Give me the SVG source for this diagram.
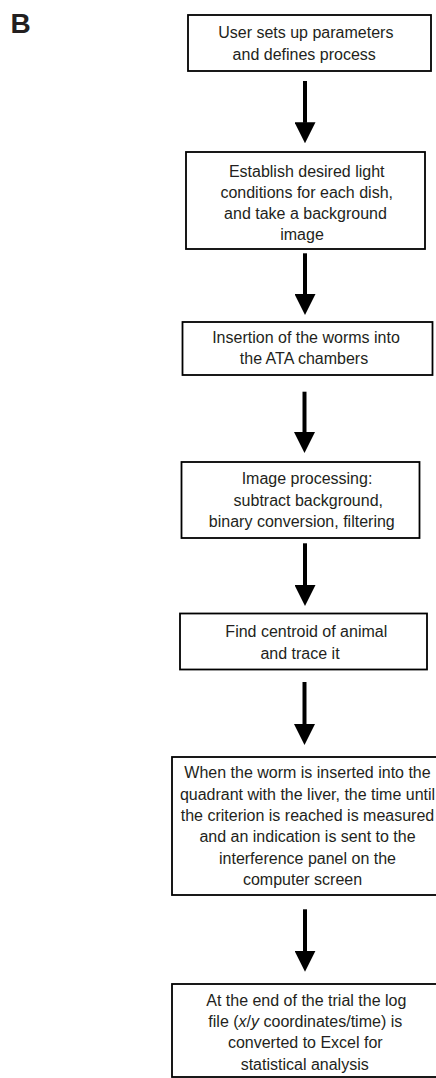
<svg xmlns="http://www.w3.org/2000/svg" width="436" height="1078" viewBox="0 0 436 1078">
<style>
.box{fill:#fff;stroke:#000;stroke-width:1.8}
.t{font-family:"Liberation Sans",Arial,sans-serif;font-size:16px;fill:#231f20;text-anchor:middle}
.arr{stroke:#000;stroke-width:4;fill:none}
.lbl{font-family:"Liberation Sans",Arial,sans-serif;font-size:28px;font-weight:bold;fill:#231f20}
</style>
<defs>
<marker id="ah" viewBox="0 0 21 21" markerWidth="21" markerHeight="21" markerUnits="userSpaceOnUse" refX="0.5" refY="10.5" orient="auto">
<path d="M0,0 L21,10.5 L0,21 Z" fill="#000"/>
</marker>
</defs>
<rect width="436" height="1078" fill="#fff"/>
<text class="lbl" x="10.5" y="33.3">B</text>
<g id="connectors">
<line class="arr" x1="305" y1="81" x2="305" y2="122.8" marker-end="url(#ah)"/>
<line class="arr" x1="305" y1="253.3" x2="305" y2="294.5" marker-end="url(#ah)"/>
<line class="arr" x1="304.5" y1="391.7" x2="304.5" y2="432.5" marker-end="url(#ah)"/>
<line class="arr" x1="305" y1="543.3" x2="305" y2="585.5" marker-end="url(#ah)"/>
<line class="arr" x1="304.5" y1="682" x2="304.5" y2="724.5" marker-end="url(#ah)"/>
<line class="arr" x1="305" y1="909.3" x2="305" y2="951.2" marker-end="url(#ah)"/>
</g>
<g id="n1">
<rect class="box" x="188" y="15" width="243" height="56"/>
<text class="t" x="305.8" y="37.5">User sets up parameters</text>
<text class="t" x="304.2" y="59.5">and defines process</text>
</g>
<g id="n2">
<rect class="box" x="186" y="152" width="239" height="97"/>
<text class="t" x="306.7" y="177.2">Establish desired light</text>
<text class="t" x="306.7" y="198.3">conditions for each dish,</text>
<text class="t" x="305.5" y="219.3">and take a background</text>
<text class="t" x="302" y="240.3">image</text>
</g>
<g id="n3">
<rect class="box" x="182.5" y="322" width="250" height="53"/>
<text class="t" x="306" y="343">Insertion of the worms into</text>
<text class="t" x="304" y="364">the ATA chambers</text>
</g>
<g id="n4">
<rect class="box" x="181.5" y="462" width="238" height="76"/>
<text class="t" x="307" y="484">Image processing:</text>
<text class="t" x="308.3" y="505.6">subtract background,</text>
<text class="t" x="301.8" y="527">binary conversion, filtering</text>
</g>
<g id="n5">
<rect class="box" x="180" y="613.5" width="247" height="56"/>
<text class="t" x="306.3" y="637">Find centroid of animal</text>
<text class="t" x="300" y="659">and trace it</text>
</g>
<g id="n6">
<rect class="box" x="172" y="757" width="272" height="138"/>
<text class="t" x="307.5" y="778.3">When the worm is inserted into the</text>
<text class="t" x="307.5" y="799.6">quadrant with the liver, the time until</text>
<text class="t" x="307.5" y="821">the criterion is reached is measured</text>
<text class="t" x="307.5" y="842.3">and an indication is sent to the</text>
<text class="t" x="307.5" y="863.6">interference panel on the</text>
<text class="t" x="302.5" y="885">computer screen</text>
</g>
<g id="n7">
<rect class="box" x="172" y="984" width="272" height="93"/>
<text class="t" x="306.3" y="1005.5">At the end of the trial the log</text>
<text class="t" x="305.3" y="1027">file (<tspan font-style="italic">x</tspan>/<tspan font-style="italic">y</tspan> coordinates/time) is</text>
<text class="t" x="305.3" y="1048.3">converted to Excel for</text>
<text class="t" x="304.7" y="1069.6">statistical analysis</text>
</g>
</svg>
